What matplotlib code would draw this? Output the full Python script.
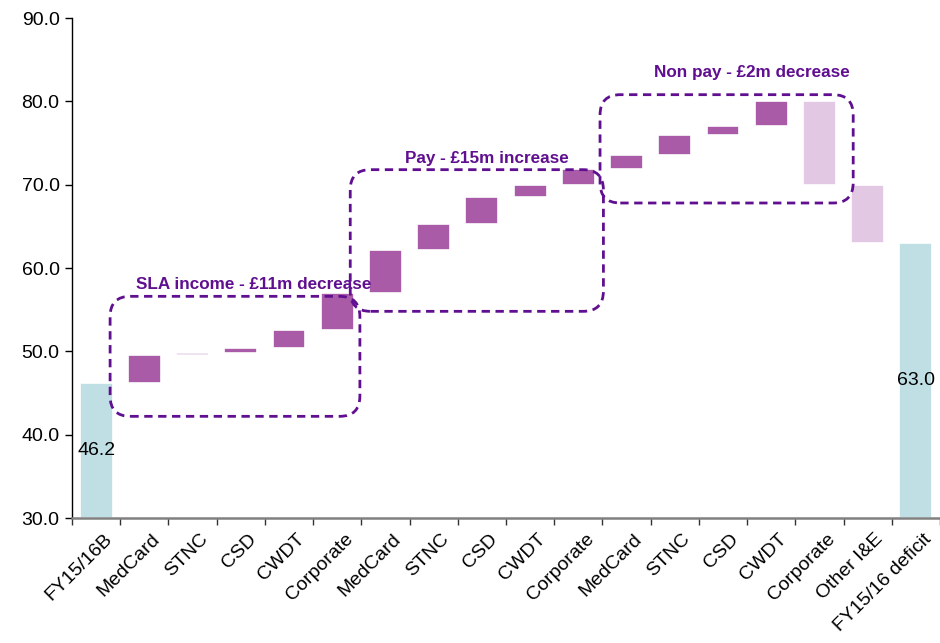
#!/usr/bin/env python3
import matplotlib

matplotlib.use("Agg")
import matplotlib.pyplot as plt
import matplotlib.transforms as mtransforms
from matplotlib.patches import FancyBboxPatch
from matplotlib.ticker import FixedLocator

CATEGORIES = [
    "FY15/16B", "MedCard", "STNC", "CSD", "CWDT", "Corporate",
    "MedCard", "STNC", "CSD", "CWDT", "Corporate",
    "MedCard", "STNC", "CSD", "CWDT", "Corporate",
    "Other I&E", "FY15/16 deficit",
]
START_VALUE = 46.2
CHANGES = [3.4, 0.2, 0.6, 2.2, 4.4,
           5.2, 3.1, 3.2, 1.5, 1.9,
           1.7, 2.4, 1.1, 2.9, -10.0,
           -7.0]
END_VALUE = 63.0

GROUP_LABELS = ["SLA income - £11m decrease", "Pay - £15m increase", "Non pay - £2m decrease"]

TEAL = "#c0dfe4"
PURPLE = "#a95ba8"
LIGHT_PURPLE = "#e3c8e3"
DARK_PURPLE = "#5f0f8f"

plt.rcParams["font.family"] = ["Liberation Sans", "DejaVu Sans"]

fig = plt.figure(figsize=(9.4, 6.43), dpi=100)
ax = fig.add_axes([0.0766, 0.1944, 0.9234, 0.7776])

width = 0.68
edge = dict(edgecolor="white", linewidth=1.2)
ax.bar(0, START_VALUE - 30, bottom=30, width=width, color=TEAL, **edge)
ax.text(0, (START_VALUE + 30) / 2, f"{START_VALUE:.1f}", ha="center", va="center", fontsize=14)

level = START_VALUE
for i, change in enumerate(CHANGES, start=1):
    lo, hi = sorted([level, level + change])
    color = PURPLE if change >= 0 else LIGHT_PURPLE
    ax.bar(i, hi - lo, bottom=lo, width=width, color=color, **edge)
    level += change

last = len(CATEGORIES) - 1
ax.bar(last, END_VALUE - 30, bottom=30, width=width, color=TEAL, **edge)
ax.text(last, (END_VALUE + 30) / 2, f"{END_VALUE:.1f}", ha="center", va="center", fontsize=14)

# dashed rounded boxes around each group: (x0, x1, y0, y1), label position
boxes = [(0.29, 5.47, 42.2, 56.6), (5.27, 10.52, 54.8, 71.8), (10.45, 15.7, 67.8, 80.8)]
label_pos = [(3.26, 58.0), (8.1, 73.2), (13.6, 83.5)]
for (x0, x1, y0, y1), (tx, ty), text in zip(boxes, label_pos, GROUP_LABELS):
    box = FancyBboxPatch(
        (x0, y0), x1 - x0, y1 - y0,
        boxstyle="round,pad=0,rounding_size=0.42",
        mutation_aspect=5.8,
        fill=False, edgecolor=DARK_PURPLE, linewidth=2.0,
        linestyle=(0, (3, 2)), zorder=4, clip_on=False,
    )
    ax.add_patch(box)
    ax.text(tx, ty, text, ha="center", va="center",
            fontsize=12.3, fontweight="bold", color=DARK_PURPLE, zorder=5)

ax.set_xlim(-0.5, len(CATEGORIES) - 0.5)
ax.set_ylim(30, 90)
ax.set_yticks(range(30, 91, 10))
ax.set_yticklabels([f"{v:.1f}" for v in range(30, 91, 10)], fontsize=14)

ax.set_xticks(range(len(CATEGORIES)))
ax.set_xticklabels(CATEGORIES, rotation=45, ha="right", rotation_mode="anchor", fontsize=14)
ax.xaxis.set_minor_locator(FixedLocator([i - 0.5 for i in range(len(CATEGORIES) + 1)]))
ax.tick_params(axis="x", which="major", length=0, pad=9)
ax.tick_params(axis="x", which="minor", length=5, color="#333333", width=1)
ax.tick_params(axis="y", length=5, width=1, color="black", pad=4)

# nudge the rotated category labels a little to the right
shift = mtransforms.ScaledTranslation(7 / 100, 0, fig.dpi_scale_trans)
for tick in ax.xaxis.get_major_ticks():
    tick.label1.set_transform(tick.label1.get_transform() + shift)

ax.spines["top"].set_visible(False)
ax.spines["right"].set_visible(False)
ax.spines["bottom"].set_color("#808080")
ax.spines["bottom"].set_linewidth(1.8)
ax.spines["left"].set_color("black")
ax.spines["left"].set_linewidth(1.0)

fig.savefig("out.png", dpi=100)
